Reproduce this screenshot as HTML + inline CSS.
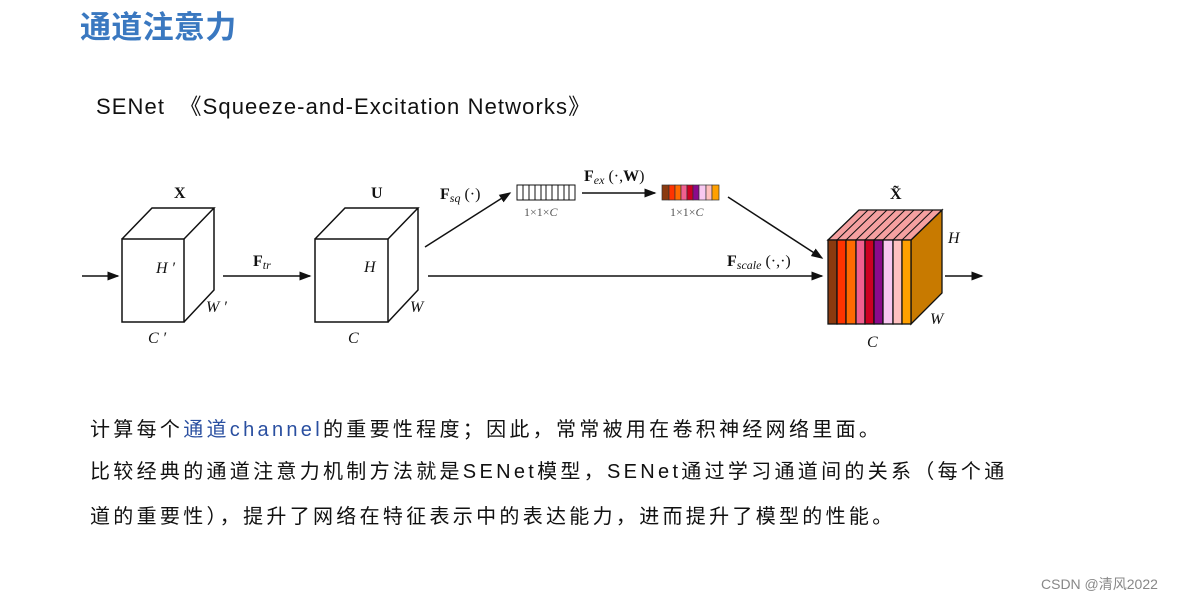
<!DOCTYPE html>
<html><head><meta charset="utf-8"><style>
body{margin:0;width:1189px;height:601px;background:#fff;overflow:hidden;position:relative;font-family:"Liberation Sans","Noto Sans CJK SC",sans-serif}
.t{position:absolute;white-space:nowrap}
.b{font-size:20px;color:#111;letter-spacing:3.3px}
</style></head><body>
<div class="t" style="left:80px;top:2px;font-size:31px;font-weight:bold;color:#3a78c0;letter-spacing:0.3px">通道注意力</div>
<div class="t" style="left:96px;top:89px;font-size:22px;color:#111;letter-spacing:1.1px">SENet &nbsp;《Squeeze-and-Excitation Networks》</div>
<svg style="position:absolute;left:0;top:0" width="1189" height="601" font-family="Liberation Serif, serif">
<defs><marker id="a" markerWidth="8" markerHeight="8" refX="7" refY="4" orient="auto"><path d="M0,1 L8,4 L0,7 Z" fill="#111"/></marker></defs>
<g stroke="#111" stroke-width="1.5" fill="none">
<line x1="82" y1="276" x2="118" y2="276" marker-end="url(#a)"/>
<rect x="122" y="239" width="62" height="83"/>
<path d="M122,239 L152,208 L214,208 L184,239 M214,208 L214,290 L184,322"/>
<line x1="223" y1="276" x2="310" y2="276" marker-end="url(#a)"/>
<rect x="315" y="239" width="73" height="83"/>
<path d="M315,239 L345,208 L418,208 L388,239 M418,208 L418,290 L388,322"/>
<line x1="425" y1="247" x2="510" y2="193" marker-end="url(#a)"/>
<line x1="428" y1="276" x2="822" y2="276" marker-end="url(#a)"/>
<line x1="582" y1="193" x2="655" y2="193" marker-end="url(#a)"/>
<line x1="728" y1="197" x2="822" y2="258" marker-end="url(#a)"/>
<line x1="945" y1="276" x2="982" y2="276" marker-end="url(#a)"/>
</g>
<g stroke="#111" stroke-width="1" fill="#fff">
<rect x="517" y="185" width="58" height="15"/>
<path d="M523,185v15M529,185v15M535,185v15M541,185v15M546,185v15M552,185v15M558,185v15M564,185v15M569,185v15"/>
</g>
<g stroke="#333" stroke-width="0.7">
<rect x="662" y="185" width="7" height="15" fill="#8B3A0F"/><rect x="669" y="185" width="6" height="15" fill="#FF3300"/><rect x="675" y="185" width="6" height="15" fill="#FF6A00"/><rect x="681" y="185" width="6" height="15" fill="#F06090"/><rect x="687" y="185" width="6" height="15" fill="#CC0022"/><rect x="693" y="185" width="6" height="15" fill="#8B0A8B"/><rect x="699" y="185" width="7" height="15" fill="#F8C8F0"/><rect x="706" y="185" width="6" height="15" fill="#FFC0C0"/><rect x="712" y="185" width="7" height="15" fill="#FFA000"/>
</g>
<g stroke="#111" stroke-width="1.3">
<path d="M911,240 L942,210 L942,293 L911,324 Z" fill="#C87A00"/>
<path d="M828,240 L859,210 L942,210 L911,240 Z" fill="#F5A0A0"/>
<path d="M837,240l31,-30M846,240l31,-30M856,240l31,-30M865,240l31,-30M874,240l31,-30M883,240l31,-30M893,240l31,-30M902,240l31,-30" stroke-width="1"/>
<rect x="828" y="240" width="9" height="84" fill="#8B3A0F"/><rect x="837" y="240" width="9" height="84" fill="#FF3300"/><rect x="846" y="240" width="10" height="84" fill="#FF6A00"/><rect x="856" y="240" width="9" height="84" fill="#F06090"/><rect x="865" y="240" width="9" height="84" fill="#CC0022"/><rect x="874" y="240" width="9" height="84" fill="#8B0A8B"/><rect x="883" y="240" width="10" height="84" fill="#F8C8F0"/><rect x="893" y="240" width="9" height="84" fill="#FFC0C0"/><rect x="902" y="240" width="9" height="84" fill="#FFA000"/>
</g>
<g fill="#111" font-size="16">
<text x="174" y="198" font-weight="bold">X</text>
<text x="371" y="198" font-weight="bold">U</text>
<text x="890" y="199" font-weight="bold">X̃</text>
<text x="156" y="273" font-style="italic">H ′</text>
<text x="206" y="312" font-style="italic">W ′</text>
<text x="148" y="343" font-style="italic">C ′</text>
<text x="364" y="272" font-style="italic">H</text>
<text x="410" y="312" font-style="italic">W</text>
<text x="348" y="343" font-style="italic">C</text>
<text x="948" y="243" font-style="italic">H</text>
<text x="930" y="324" font-style="italic">W</text>
<text x="867" y="347" font-style="italic">C</text>
<text x="253" y="266"><tspan font-weight="bold">F</tspan><tspan font-size="12" font-style="italic" dy="3">tr</tspan></text>
<text x="440" y="199"><tspan font-weight="bold">F</tspan><tspan font-size="12" font-style="italic" dy="3">sq</tspan><tspan dy="-3"> (·)</tspan></text>
<text x="584" y="181"><tspan font-weight="bold">F</tspan><tspan font-size="12" font-style="italic" dy="3">ex</tspan><tspan dy="-3"> (·,</tspan><tspan font-weight="bold">W</tspan>)</text>
<text x="727" y="266"><tspan font-weight="bold">F</tspan><tspan font-size="12" font-style="italic" dy="3">scale</tspan><tspan dy="-3"> (·,·)</tspan></text>
<text x="524" y="216" font-size="12" fill="#555">1×1×<tspan font-style="italic">C</tspan></text>
<text x="670" y="216" font-size="12" fill="#555">1×1×<tspan font-style="italic">C</tspan></text>
</g>
</svg>
<div class="t b" style="left:90px;top:413px">计算每个<span style="color:#2a4fa0">通道channel</span>的重要性程度；因此，常常被用在卷积神经网络里面。</div>
<div class="t b" style="left:90px;top:455px">比较经典的通道注意力机制方法就是SENet模型，SENet通过学习通道间的关系（每个通</div>
<div class="t b" style="left:90px;top:500px">道的重要性），提升了网络在特征表示中的表达能力，进而提升了模型的性能。</div>
<div class="t" style="left:1041px;top:574px;font-size:14px;color:#888">CSDN @清风2022</div>
</body></html>
